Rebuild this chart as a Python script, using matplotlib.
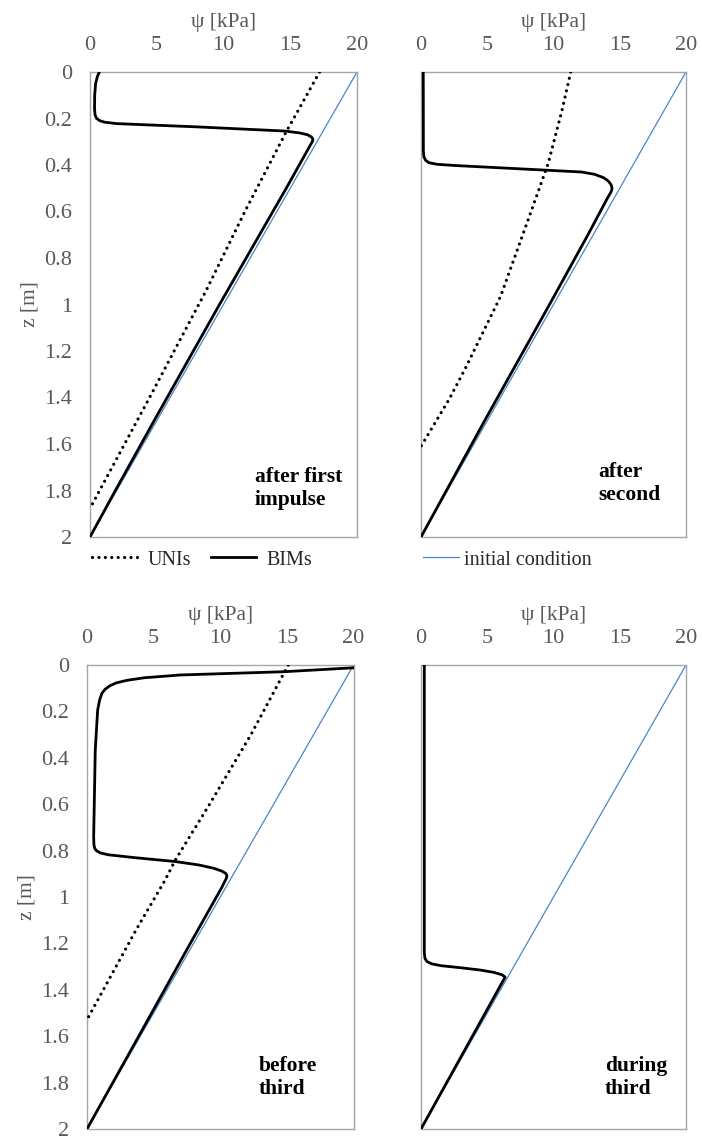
import numpy as np
import matplotlib
matplotlib.use("Agg")
import matplotlib.pyplot as plt
from matplotlib.lines import Line2D

plt.rcParams['font.family'] = ['Liberation Serif', 'DejaVu Serif']

# initial condition: hydrostatic profile
z_init = [0.0, 2.0]
psi_init = [20.0, 0.0]

# after first impulse
z_uni_1 = [0.0, 0.257, 0.6, 0.94, 1.41, 1.877]
psi_uni_1 = [17.2, 14.7, 11.6, 8.7, 4.37, 0.0]
z_bim_1 = [0.0, 0.02, 0.05, 0.1, 0.16, 0.185, 0.2, 0.21, 0.216, 0.222, 0.236, 0.254,
           0.262, 0.27, 0.28, 0.29, 0.3, 0.32, 0.5, 1.0, 1.5, 1.8, 2.0]
psi_bim_1 = [0.7, 0.55, 0.42, 0.35, 0.34, 0.38, 0.5, 0.75, 1.1, 2.0, 8.0, 14.6,
             15.7, 16.3, 16.6, 16.7, 16.65, 16.45, 14.7, 9.7, 4.8, 1.9, 0.0]

# after second
z_uni_2 = [0.0, 0.163, 0.393, 0.665, 0.966, 1.28, 1.41, 1.61]
psi_uni_2 = [11.3, 10.65, 9.6, 7.9, 6.0, 3.3, 2.1, 0.0]
z_bim_2 = [0.0, 0.34, 0.365, 0.38, 0.39, 0.397, 0.402, 0.43, 0.44, 0.455,
           0.47, 0.485, 0.5, 0.515, 0.53, 0.55, 0.7, 1.0, 1.5, 2.0]
psi_bim_2 = [0.17, 0.18, 0.22, 0.35, 0.6, 1.2, 2.5, 12.1, 13.1, 13.8,
             14.15, 14.35, 14.42, 14.35, 14.2, 14.0, 12.6, 9.7, 4.8, 0.0]

# before third
z_uni_3 = [0.0, 0.3, 0.6, 0.843, 0.926, 1.14, 1.35, 1.529]
psi_uni_3 = [15.1, 12.3, 9.2, 6.6, 5.87, 3.7, 1.7, 0.0]
z_bim_3 = [0.012, 0.029, 0.043, 0.055, 0.066, 0.077, 0.09, 0.105, 0.122, 0.15,
           0.194, 0.366, 0.74, 0.775, 0.79, 0.8, 0.81, 0.818, 0.83, 0.847,
           0.862, 0.876, 0.888, 0.898, 0.908, 0.92, 0.96, 1.2, 1.5, 2.0]
psi_bim_3 = [20.0, 14.75, 7.0, 4.3, 3.0, 2.2, 1.7, 1.35, 1.12, 0.95,
             0.8, 0.62, 0.5, 0.52, 0.58, 0.7, 1.0, 1.6, 3.5, 6.6,
             8.4, 9.5, 10.1, 10.4, 10.5, 10.45, 10.1, 7.75, 4.85, 0.0]

# during third (no UNIs curve)
z_bim_4 = [0.0, 1.24, 1.265, 1.278, 1.288, 1.296, 1.305, 1.315, 1.325, 1.335,
           1.345, 1.5, 2.0]
psi_bim_4 = [0.25, 0.25, 0.3, 0.45, 0.8, 1.5, 3.0, 4.5, 5.5, 6.1,
             6.35, 4.85, 0.0]

x_ticks = [0, 5, 10, 15, 20]
z_ticks = [0, 0.2, 0.4, 0.6, 0.8, 1, 1.2, 1.4, 1.6, 1.8, 2]
z_ticklabels = ['0', '0.2', '0.4', '0.6', '0.8', '1', '1.2', '1.4', '1.6', '1.8', '2']

panel_text = ['after first\nimpulse', 'after\nsecond', 'before\nthird', 'during\nthird']
text_pos = [(0.618, 0.105), (0.668, 0.116), (0.643, 0.11), (0.694, 0.11)]

W, H = 702, 1142
fig = plt.figure(figsize=(W / 100, H / 100), dpi=100)

boxes = [(90, 72, 267, 465), (421, 72, 265, 465),
         (87, 665, 266.6, 464), (421, 665, 265, 464)]
axes = [fig.add_axes([x / W, 1 - (y + h) / H, w / W, h / H]) for x, y, w, h in boxes]

grey = '#595959'
blue = '#4A86C8'
dots = (0, (0.01, 2.0))

profiles = [(z_uni_1, psi_uni_1, z_bim_1, psi_bim_1),
            (z_uni_2, psi_uni_2, z_bim_2, psi_bim_2),
            (z_uni_3, psi_uni_3, z_bim_3, psi_bim_3),
            (None, None, z_bim_4, psi_bim_4)]

for i, ax in enumerate(axes):
    zu, pu, zb, pb = profiles[i]
    ax.plot(psi_init, z_init, color=blue, lw=0.9, zorder=2)
    if zu is not None:
        ax.plot(pu, zu, color='black', lw=2.3, ls=dots,
                dash_capstyle='round', zorder=3)
    ax.plot(pb, zb, color='black', lw=2.0, zorder=4, solid_joinstyle='round')

    ax.set_xlim(0, 20)
    ax.set_ylim(2, 0)
    ax.xaxis.tick_top()
    ax.xaxis.set_label_position('top')
    ax.set_xticks(x_ticks)
    ax.set_xticklabels([str(t) for t in x_ticks])
    ax.set_xlabel('ψ [kPa]', color=grey, fontsize=15.5, labelpad=7)
    ax.set_yticks(z_ticks)
    if i % 2 == 0:
        ax.set_yticklabels(z_ticklabels)
        ax.set_ylabel('z [m]', color=grey, fontsize=15.5, labelpad=3)
    else:
        ax.set_yticklabels([])
    ax.tick_params(axis='x', length=0, pad=12, labelsize=16, labelcolor=grey)
    ax.tick_params(axis='y', length=0, pad=13, labelsize=16, labelcolor=grey)
    for s in ax.spines.values():
        s.set_color('#a6a6a6')
        s.set_linewidth(1.0)

    tx, ty = text_pos[i]
    ax.text(tx, ty, panel_text[i], transform=ax.transAxes, fontsize=15.5,
            fontweight='bold', ha='left', va='center', linespacing=1.2)

# legends below the top row
h_uni = Line2D([], [], color='black', lw=2.3, ls=dots, dash_capstyle='round')
h_bim = Line2D([], [], color='black', lw=2.0)
h_ini = Line2D([], [], color=blue, lw=0.9)
fig.legend([h_uni, h_bim], ['UNIs', 'BIMs'], loc='center left',
           bbox_to_anchor=(92 / W, 1 - 560 / H), ncol=2, frameon=False,
           borderpad=0, borderaxespad=0,
           fontsize=14.5, handlelength=2.25, handletextpad=0.5, columnspacing=1.0,
           labelcolor='#262626')
fig.legend([h_ini], ['initial condition'], loc='center left',
           bbox_to_anchor=(423 / W, 1 - 560 / H), frameon=False,
           borderpad=0, borderaxespad=0,
           fontsize=14.5, handlelength=1.8, handletextpad=0.25,
           labelcolor='#262626')

fig.savefig('out.png', dpi=100)
